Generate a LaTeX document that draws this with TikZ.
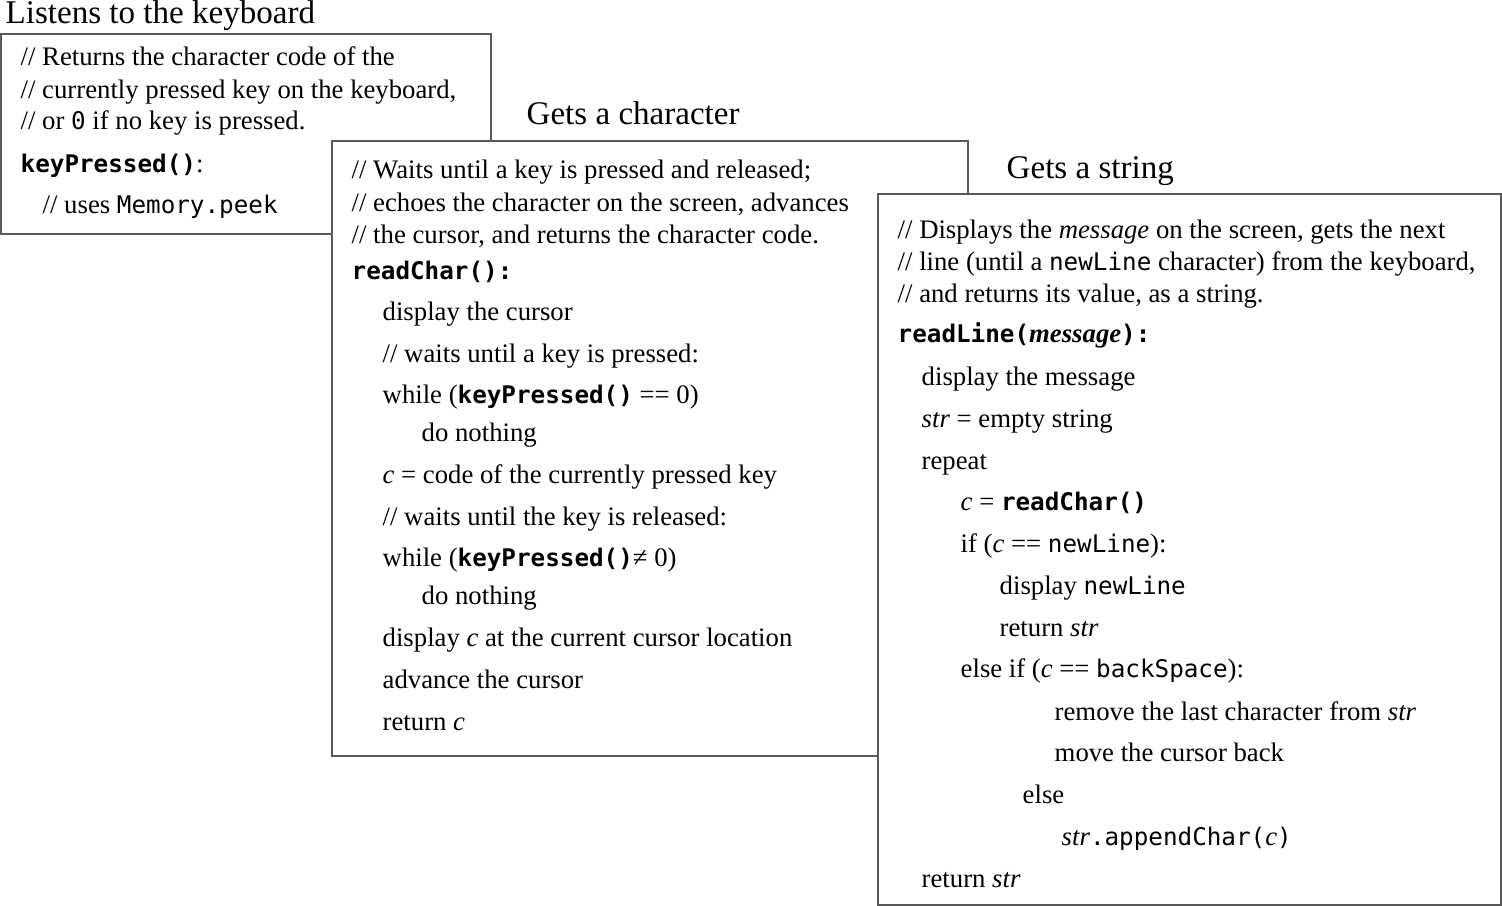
\documentclass[tikz,border=0pt]{standalone}
\usepackage{fontspec}
\setmainfont{Liberation Serif}
\setmonofont{DejaVu Sans Mono}
\usepackage{tikz}
\usetikzlibrary{positioning}

\newcommand{\cd}[1]{{\fontsize{6.9}{8}\selectfont\ttfamily #1}}
\newcommand{\cdb}[1]{{\fontsize{6.9}{8}\selectfont\ttfamily\bfseries #1}}

\tikzset{
	codebox/.style={draw=black!65, line width=0.02cm, fill=white, inner sep=0pt},
	codeline/.style={anchor=base west, inner sep=0pt, font=\fontsize{7.6}{9}\selectfont},
	boxtitle/.style={anchor=base west, inner sep=0pt, font=\fontsize{9.4}{11}\selectfont}
}

\begin{document}
\begin{tikzpicture}[x=0.01cm, y=-0.01cm]
		\useasboundingbox (0,0) rectangle (1502,906);
		% keyboard
		\node[codebox, minimum width=4.90cm, minimum height=2.00cm] (keybox) at (246,134) {};
		\node[boxtitle] (keytitle) at (5,24) {Listens to the keyboard};
		\node[codeline] (k1) at (20,65) {// Returns the character code of the};
		\node[codeline] (k2) at (20,98) {// currently pressed key on the keyboard,};
		\node[codeline] (k3) at (20,129) {// or \cd{0} if no key is pressed.};
		\node[codeline] (k4) at (20,172) {\cdb{keyPressed()}:};
		\node[codeline] (k5) at (42,213) {// uses \cd{Memory.peek}};
		% readChar
		\node[codebox, minimum width=6.36cm, minimum height=6.15cm] (charbox) at (650,448.5) {};
		\node[boxtitle] (chartitle) at (526,124) {Gets a character};
		\node[codeline] (c1) at (351,179) {// Waits until a key is pressed and released;};
		\node[codeline] (c2) at (351,211) {// echoes the character on the screen, advances};
		\node[codeline] (c3) at (351,243) {// the cursor, and returns the character code.};
		\node[codeline] (c4) at (351,279) {\cdb{readChar():}};
		\node[codeline] (c5) at (382,320) {display the cursor};
		\node[codeline] (c6) at (382,362) {// waits until a key is pressed:};
		\node[codeline] (c7) at (382,403) {while (\cdb{keyPressed()} == 0)};
		\node[codeline] (c8) at (421,441) {do nothing};
		\node[codeline] (c9) at (382,483) {\textit{c} = code of the currently pressed key};
		\node[codeline] (c10) at (382,525) {// waits until the key is released:};
		\node[codeline] (c11) at (382,566) {while (\cdb{keyPressed()}≠ 0)};
		\node[codeline] (c12) at (421,604) {do nothing};
		\node[codeline] (c13) at (382,646) {display \textit{c} at the current cursor location};
		\node[codeline] (c14) at (382,688) {advance the cursor};
		\node[codeline] (c15) at (382,730) {return \textit{c}};
		% readLine
		\node[codebox, minimum width=6.23cm, minimum height=7.11cm] (linebox) at (1189.5,549.5) {};
		\node[boxtitle] (linetitle) at (1006,178) {Gets a string};
		\node[codeline] (s1) at (897,238) {// Displays the \textit{message} on the screen, gets the next};
		\node[codeline] (s2) at (897,270) {// line (until a \cd{newLine} character) from the keyboard,};
		\node[codeline] (s3) at (897,302) {// and returns its value, as a string.};
		\node[codeline] (s4) at (897,342) {\cdb{readLine(}\textbf{\textit{message}}\cdb{):}};
		\node[codeline] (s5) at (921,385) {display the message};
		\node[codeline] (s6) at (921,427) {\textit{str} = empty string};
		\node[codeline] (s7) at (921,469) {repeat};
		\node[codeline] (s8) at (960,510) {\textit{c} = \cdb{readChar()}};
		\node[codeline] (s9) at (960,552) {if (\textit{c} == \cd{newLine}):};
		\node[codeline] (s10) at (999,594) {display \cd{newLine}};
		\node[codeline] (s11) at (999,636) {return \textit{str}};
		\node[codeline] (s12) at (960,677) {else if (\textit{c} == \cd{backSpace}):};
		\node[codeline] (s13) at (1054,720) {remove the last character from \textit{str}};
		\node[codeline] (s14) at (1054,761) {move the cursor back};
		\node[codeline] (s15) at (1022,803) {else};
		\node[codeline] (s16) at (1061,845) {\textit{str}\cd{.appendChar(}\textit{c}\cd{)}};
		\node[codeline] (s17) at (921,887) {return \textit{str}};
	\end{tikzpicture}
\end{document}
